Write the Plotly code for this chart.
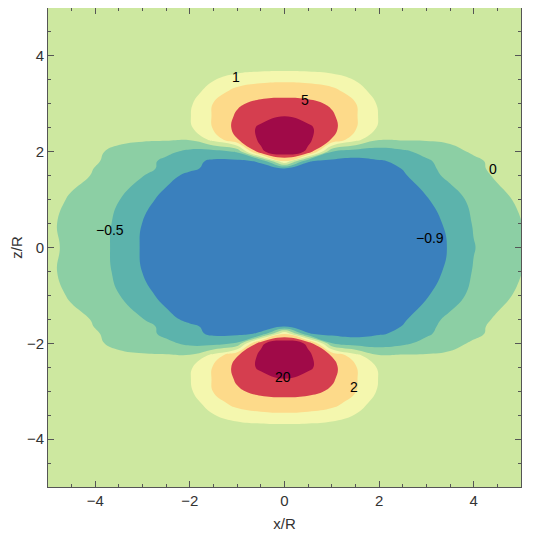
import numpy as np
import plotly.graph_objects as go

# grid (x/R columns, z/R rows for the upper half)
x_grid = [-5, -4.5, -4, -3.5, -3, -2.5, -2, -1.5, -1, -0.5, 0,
          0.5, 1, 1.5, 2, 2.5, 3, 3.5, 4, 4.5, 5]
z_rows_upper = [0, 0.5, 1.0, 1.5, 1.65, 1.8, 2.0, 2.25, 2.5, 2.75,
                3.0, 3.25, 3.5, 3.75, 4.0, 4.5, 5.0]

# field values along each row, left to right
row_0_00 = [0.2, -0.1, -0.25, -0.62, -0.94, -1.08, -1.16, -1.2, -1.22, -1.22, -1.22,
            -1.22, -1.22, -1.21, -1.18, -1.13, -1.03, -0.88, -0.52, -0.2, -0.03]
row_0_50 = [0.1, -0.08, -0.28, -0.58, -0.91, -1.06, -1.15, -1.19, -1.21, -1.22, -1.22,
            -1.22, -1.21, -1.2, -1.17, -1.11, -1.0, -0.85, -0.46, -0.15, -0.01]
row_1_00 = [0.3, -0.05, -0.25, -0.49, -0.78, -1.01, -1.12, -1.17, -1.2, -1.21, -1.21,
            -1.21, -1.2, -1.18, -1.14, -1.06, -0.92, -0.8, -0.28, -0.08, 0.1]
row_1_50 = [0.4, 0.2, -0.03, -0.25, -0.48, -0.8, -0.98, -1.08, -1.13, -1.16, -1.16,
            -1.17, -1.17, -1.14, -1.06, -0.94, -0.74, -0.32, -0.1, 0.07, 0.3]
row_1_65 = [0.4, 0.25, -0.01, -0.15, -0.35, -0.6, -0.84, -0.99, -1.04, -1.0, -0.92,
            -1.02, -1.08, -1.1, -1.02, -0.89, -0.62, -0.3, -0.08, 0.15, 0.3]
row_1_80 = [0.4, 0.3, 0.05, -0.1, -0.3, -0.6, -0.8, -0.96, -0.98, -0.86, 1.95,
            -0.88, -1.0, -1.02, -0.93, -0.84, -0.56, -0.28, -0.08, 0.2, 0.35]
row_2_00 = [0.4, 0.3, 0.1, -0.08, -0.2, -0.38, -0.6, -0.66, -0.45, 17, 44,
            17, -0.49, -0.7, -0.7, -0.58, -0.35, -0.12, 0.1, 0.3, 0.4]
row_2_25 = [0.4, 0.35, 0.25, 0.13, 0.08, 0.08, 0.05, 1.3, 4.85, 26, 50,
            26, 4.85, 1.3, 0.05, 0.08, 0.08, 0.13, 0.25, 0.35, 0.4]
row_2_50 = [0.45, 0.4, 0.35, 0.3, 0.25, 0.3, 0.85, 2.3, 9.5, 26, 50,
            26, 9.5, 2.3, 0.85, 0.3, 0.25, 0.3, 0.35, 0.4, 0.45]
row_2_75 = [0.45, 0.4, 0.35, 0.3, 0.3, 0.3, 0.95, 2.3, 7.3, 14, 19.3,
            14, 7.3, 2.3, 0.95, 0.3, 0.3, 0.3, 0.35, 0.4, 0.45]
row_3_00 = [0.45, 0.4, 0.35, 0.3, 0.3, 0.3, 0.85, 2.15, 4.55, 9.5, 11,
            9.5, 4.55, 2.15, 0.85, 0.3, 0.3, 0.3, 0.35, 0.4, 0.45]
row_3_25 = [0.45, 0.4, 0.35, 0.3, 0.3, 0.3, 0.5, 1.55, 3.05, 3.5, 3.8,
            3.5, 3.05, 1.55, 0.5, 0.3, 0.3, 0.3, 0.35, 0.4, 0.45]
row_3_50 = [0.45, 0.4, 0.35, 0.3, 0.3, 0.3, 0.4, 0.95, 1.5, 1.8, 1.85,
            1.8, 1.5, 0.95, 0.4, 0.3, 0.3, 0.3, 0.35, 0.4, 0.45]
row_3_75 = [0.45, 0.4, 0.35, 0.3, 0.3, 0.3, 0.35, 0.45, 0.55, 0.65, 0.7,
            0.65, 0.55, 0.45, 0.35, 0.3, 0.3, 0.3, 0.35, 0.4, 0.45]
row_4_00 = [0.4, 0.35, 0.3, 0.3, 0.3, 0.3, 0.3, 0.35, 0.4, 0.42, 0.45,
            0.42, 0.4, 0.35, 0.3, 0.3, 0.3, 0.3, 0.3, 0.35, 0.4]
row_4_50 = [0.35, 0.3, 0.3, 0.3, 0.3, 0.3, 0.3, 0.3, 0.3, 0.3, 0.3,
            0.3, 0.3, 0.3, 0.3, 0.3, 0.3, 0.3, 0.3, 0.3, 0.35]
row_5_00 = [0.35, 0.3, 0.3, 0.3, 0.3, 0.3, 0.3, 0.3, 0.3, 0.3, 0.3,
            0.3, 0.3, 0.3, 0.3, 0.3, 0.3, 0.3, 0.3, 0.3, 0.35]

# contour levels and the band colours between them (lowest band first)
levels = [-0.9, -0.5, 0, 1, 2, 5, 20]
band_colors = ['#3a80bd', '#5cb3ac', '#8ccfa4', '#cde8a0',
               '#f4f7ae', '#fdda8a', '#d53e4f', '#a00a48']

# contour labels as they sit in the picture
label_text = ['1', '5', '0', '\u22120.5', '\u22120.9', '20', '2']
label_x = [-1.02, 0.43, 4.41, -3.68, 3.08, -0.04, 1.47]
label_y = [3.57, 3.07, 1.63, 0.36, 0.19, -2.70, -2.92]

upper = np.array([row_0_00, row_0_50, row_1_00, row_1_50, row_1_65, row_1_80,
                  row_2_00, row_2_25, row_2_50, row_2_75, row_3_00, row_3_25,
                  row_3_50, row_3_75, row_4_00, row_4_50, row_5_00])

# the picture is mirror symmetric about z = 0
z_grid = [-v for v in z_rows_upper[:0:-1]] + z_rows_upper
field = np.vstack([upper[:0:-1], upper])

# uneven levels -> evenly spaced index so plotly can draw them
edges = [-1.3] + levels + [50]
field_idx = np.interp(field, edges, np.arange(len(edges)))

n = len(band_colors) - 1
colorscale = [[i / n, c] for i, c in enumerate(band_colors)]

fig = go.Figure()
fig.add_trace(go.Contour(
    x=x_grid, y=z_grid, z=field_idx,
    contours=dict(start=1, end=len(levels), size=1, coloring='fill', showlines=False),
    colorscale=colorscale,
    line=dict(width=0, smoothing=1.3),
    showscale=False,
    hoverinfo='skip',
))

for t, lx, ly in zip(label_text, label_x, label_y):
    fig.add_annotation(x=lx, y=ly, text=t, showarrow=False,
                       font=dict(size=14, color='black', family='Liberation Sans'))

axis_style = dict(
    range=[-5, 5], dtick=2, ticks='inside', ticklen=6, tickwidth=1,
    tickcolor='#555', showline=True, linecolor='#555', linewidth=1,
    mirror='allticks', showgrid=False, zeroline=False,
    minor=dict(ticks='inside', dtick=0.5, ticklen=3, tickcolor='#555'),
    tickfont=dict(size=15, color='#333', family='Liberation Sans'),
)

fig.update_xaxes(**axis_style, title=dict(text='x/R', standoff=10,
                 font=dict(size=15, color='#333', family='Liberation Sans')))
fig.update_yaxes(**axis_style, title=dict(text='z/R', standoff=7,
                 font=dict(size=15, color='#333', family='Liberation Sans')))

# page body adds 8px, so the margins are shifted to put the frame where it was
fig.update_layout(
    width=538, height=537,
    margin=dict(l=40, r=25, t=0, b=58),
    paper_bgcolor='white', plot_bgcolor='white',
    showlegend=False,
)

fig.write_html("out.html")
